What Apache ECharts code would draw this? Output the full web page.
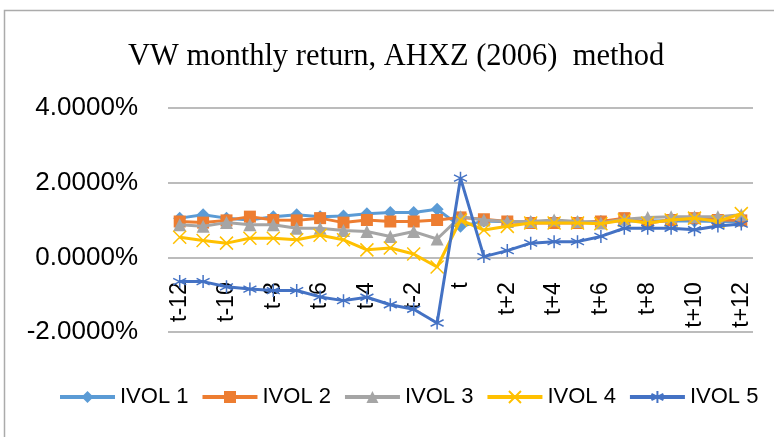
<!DOCTYPE html>
<html>
<head>
<meta charset="utf-8">
<script src="https://cdn.jsdelivr.net/npm/echarts@6/dist/echarts.min.js"></script>
<style>
  html, body { margin: 0; padding: 0; background: #fff; }
  #main { width: 774px; height: 437px; }
</style>
</head>
<body>
<div id="main"></div>
<script>
// event window t-12 .. t+12
var months = ['t-12','t-11','t-10','t-9','t-8','t-7','t-6','t-5','t-4','t-3','t-2','t-1','t',
  't+1','t+2','t+3','t+4','t+5','t+6','t+7','t+8','t+9','t+10','t+11','t+12']
var seriesNames = ['IVOL 1','IVOL 2','IVOL 3','IVOL 4','IVOL 5']
// returns in percent
var ivol1 = [1.05,1.14,1.05,1.00,1.09,1.14,1.09,1.11,1.17,1.20,1.20,1.29,0.83,0.97,0.95,0.94,0.95,0.94,0.96,0.98,0.97,0.98,0.97,0.96,0.96]
var ivol2 = [0.96,0.93,0.99,1.09,1.00,0.99,1.05,0.93,1.00,0.96,0.96,1.00,1.07,1.02,0.96,0.92,0.92,0.92,0.96,1.05,0.92,1.00,1.05,1.00,0.99]
var ivol3 = [0.87,0.83,0.93,0.87,0.87,0.78,0.78,0.72,0.69,0.56,0.69,0.49,1.09,1.00,0.96,0.96,1.00,0.96,0.92,1.02,1.07,1.09,1.09,1.09,1.14]
var ivol4 = [0.54,0.45,0.38,0.51,0.51,0.47,0.59,0.47,0.20,0.25,0.09,-0.26,1.00,0.73,0.83,0.92,0.92,0.92,0.90,1.00,0.92,1.00,1.05,0.96,1.17]
var ivol5 = [-0.65,-0.65,-0.79,-0.85,-0.89,-0.89,-1.06,-1.16,-1.07,-1.27,-1.39,-1.76,2.12,0.02,0.18,0.38,0.42,0.42,0.56,0.78,0.78,0.78,0.74,0.84,0.89]
var yTicks = [-2, 0, 2, 4]

var colors = ['#5B9BD5','#ED7D31','#A5A5A5','#FFC000','#4472C4']
var symbols = [
  'diamond',
  'rect',
  'triangle',
  'path://M0,0L10,10M10,0L0,10',
  'path://M5,0L5,10M0.8,2.5L9.2,7.5M9.2,2.5L0.8,7.5'
]
var sizes = [13, 12, 13, 13, 13]
var allData = [ivol1, ivol2, ivol3, ivol4, ivol5]

var gridTop = 108, gridBottom = 105, plotH = 437 - gridTop - gridBottom
// category labels sit under the zero line, not under the plot
var zeroOffset = -plotH * (0 - yTicks[0]) / (yTicks[yTicks.length - 1] - yTicks[0])

var chart = echarts.init(document.getElementById('main'))

var series = allData.map(function (d, i) {
  var stroked = i >= 3 // x and star markers are only strokes
  return {
    name: seriesNames[i],
    type: 'line',
    data: d,
    symbol: symbols[i],
    symbolSize: sizes[i],
    showAllSymbol: true,
    z: 2 + i,
    lineStyle: { color: colors[i], width: 3 },
    itemStyle: {
      color: colors[i],
      borderColor: colors[i],
      borderWidth: stroked ? 1.5 : 0
    },
    emphasis: { disabled: true }
  }
})

var option = {
  animation: false,
  color: colors,
  title: {
    text: 'VW monthly return, AHXZ (2006)  method',
    left: 123,
    top: 36,
    textStyle: { fontFamily: 'Liberation Serif', fontWeight: 'normal', fontSize: 30.5, color: '#000' }
  },
  graphic: [{
    type: 'rect',
    shape: { x: 4.5, y: 10.5, width: 1000, height: 1000 },
    style: { fill: 'none', stroke: '#ababab', lineWidth: 1.5 },
    silent: true
  }],
  legend: {
    data: seriesNames,
    left: 58,
    top: 386,
    padding: 0,
    itemWidth: 55,
    itemHeight: 15,
    itemGap: 12,
    lineStyle: { width: 4 },
    textStyle: { fontFamily: 'Liberation Sans', fontSize: 22, color: '#000' }
  },
  grid: { left: 168, right: 21, top: gridTop, bottom: gridBottom, containLabel: false },
  xAxis: {
    type: 'category',
    data: months,
    boundaryGap: true,
    offset: zeroOffset,
    axisLine: { show: false },
    axisTick: { show: false },
    axisLabel: {
      interval: 1,
      rotate: 90,
      margin: 25,
      fontFamily: 'Liberation Sans',
      fontSize: 23,
      color: '#000'
    }
  },
  yAxis: {
    type: 'value',
    min: yTicks[0],
    max: yTicks[yTicks.length - 1],
    interval: 2,
    axisLine: { show: false },
    axisTick: { show: false },
    splitLine: { lineStyle: { color: '#a6a6a6', width: 1.5 } },
    axisLabel: {
      margin: 30,
      fontFamily: 'Liberation Sans',
      fontSize: 26,
      color: '#000',
      formatter: function (v) { return v.toFixed(4) + '%' }
    }
  },
  series: series
}

chart.setOption(option)
</script>
</body>
</html>
